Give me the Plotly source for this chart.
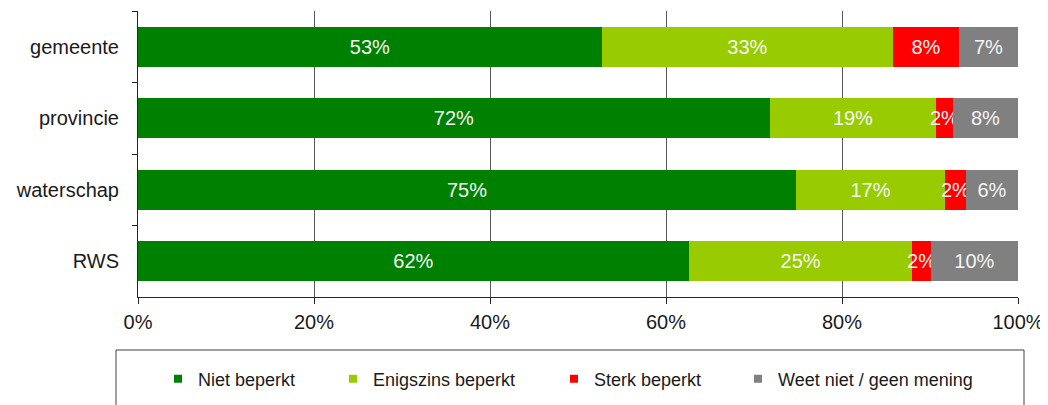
import plotly.graph_objects as go

categories = ["gemeente", "provincie", "waterschap", "RWS"]
series_names = ["Niet beperkt", "Enigszins beperkt", "Sterk beperkt", "Weet niet / geen mening"]
niet = [52.7, 71.8, 74.8, 62.6]
enigszins = [33.1, 18.9, 16.9, 25.4]
sterk = [7.5, 1.9, 2.4, 2.1]
weet = [6.7, 7.4, 5.9, 9.9]
niet_lbl = ["53%", "72%", "75%", "62%"]
enig_lbl = ["33%", "19%", "17%", "25%"]
sterk_lbl = ["8%", "2%", "2%", "2%"]
weet_lbl = ["7%", "8%", "6%", "10%"]
x_ticks = [0, 20, 40, 60, 80, 100]
x_tick_labels = ["0%", "20%", "40%", "60%", "80%", "100%"]

colors = ["#008000", "#99CC00", "#FF0000", "#808080"]
FONT = "Liberation Sans, Arial, sans-serif"

fig = go.Figure()
for name, vals, lbls, col in zip(series_names, [niet, enigszins, sterk, weet],
                                 [niet_lbl, enig_lbl, sterk_lbl, weet_lbl], colors):
    fig.add_trace(go.Bar(
        y=categories, x=vals, orientation="h", name=name,
        marker=dict(color=col, line=dict(width=0)),
        text=lbls, textposition="inside", insidetextanchor="middle",
        textangle=0, constraintext="none", cliponaxis=False,
        textfont=dict(family=FONT, size=20, color="#F5F5F5"),
        showlegend=False, hoverinfo="skip",
    ))

# page body has an 8px margin -> work in window coordinates and shift
OFF = 8
W, H = 1048 - OFF, 405 - OFF
plot_left, plot_right, plot_top, plot_bottom = 138, 1018, 11, 297  # window px
L, T = plot_left - OFF, plot_top - OFF
R = W - (plot_right - OFF)
B = H - (plot_bottom - OFF)
pw, ph = W - L - R, H - T - B


def px_x(x):
    return (x - plot_left) / pw


def px_y(y):
    return (plot_bottom - y) / ph


leg_px = [158, 333, 554, 738]
leg_keys = ["legend", "legend2", "legend3", "legend4"]
layout_legends = {}
for name, col, px, key in zip(series_names, colors, leg_px, leg_keys):
    fig.add_trace(go.Scatter(
        x=[None], y=[None], mode="markers", name=name,
        marker=dict(symbol="square", size=8, color=col),
        legend=key, showlegend=True,
    ))
    layout_legends[key] = dict(
        x=px_x(px), xanchor="left", y=px_y(379), yanchor="middle",
        orientation="h", bgcolor="rgba(0,0,0,0)", borderwidth=0,
        font=dict(family=FONT, size=18, color="#1a1a1a"),
    )

fig.update_layout(
    width=W, height=H,
    margin=dict(l=L, r=R, t=T, b=B, pad=0, autoexpand=False),
    barmode="stack", bargap=0.44,
    plot_bgcolor="white", paper_bgcolor="white",
    font=dict(family=FONT, size=20, color="#1a1a1a"),
    **layout_legends,
)
fig.update_xaxes(
    range=[0, 100.0001], tickvals=x_ticks, ticktext=x_tick_labels,
    showgrid=True, gridcolor="#595959", gridwidth=1,
    showline=True, linecolor="#262626", linewidth=1,
    ticks="outside", ticklen=6, tickcolor="#262626",
    ticklabelstandoff=1, zeroline=False, automargin=False,
    tickfont=dict(family=FONT, size=20, color="#1a1a1a"),
)
fig.update_yaxes(
    autorange="reversed", categoryorder="array", categoryarray=categories,
    showline=True, linecolor="#262626", linewidth=1,
    ticks="outside", ticklen=5, tickcolor="#262626", tickson="boundaries",
    showgrid=False, ticklabelstandoff=14, automargin=False,
    tickfont=dict(family=FONT, size=20, color="#1a1a1a"),
)

# legend frame
fig.add_shape(type="rect", xref="paper", yref="paper",
              x0=px_x(116), x1=px_x(1024),
              y0=px_y(420), y1=px_y(350),
              line=dict(color="#404040", width=1), fillcolor="rgba(0,0,0,0)", layer="below")

fig.write_html("out.html")
